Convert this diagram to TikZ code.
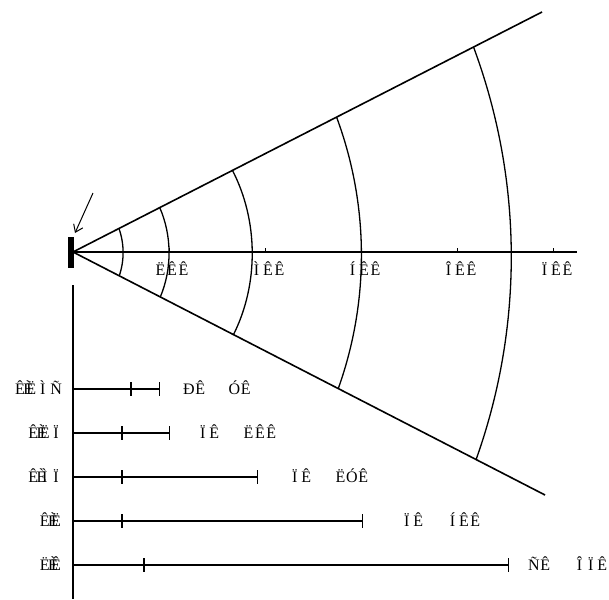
\documentclass[tikz,border=0pt]{standalone}
\usepackage{fontspec}
\setmainfont{Liberation Serif}
\usetikzlibrary{arrows.meta,calc}
\makeatletter
\newcommand{\mono}[1]{\@tfor\mono@c:=#1\do{\makebox[11.4pt]{\mono@c}}}
\makeatother
\newcommand{\monolab}[1]{\expandafter\mono\expandafter{#1}}
\newcommand{\pe}{\makebox[0pt][r]{È\kern-7.5pt}}

\begin{document}
\begin{tikzpicture}[x=1pt,y=1pt,font=\fontsize{16}{18}\selectfont,
    beam/.style={line width=1.6pt},
    front/.style={line width=1.3pt},
    scaleline/.style={line width=1.4pt},
    lab/.style={inner sep=0pt}]
  \useasboundingbox (0,0) rectangle (609,-599);
  \coordinate (src) at (73,-252);
  \coordinate (upEnd) at (542,-12);
  \coordinate (lowEnd) at (545,-495);
  \coordinate (axEnd) at (577,-252);
  \fill (68,-237) rectangle (73.5,-268);
  \draw[beam] (src) -- (upEnd);
  \draw[beam] (src) -- (lowEnd);
  \draw[line width=1.2pt] (src) -- (axEnd);
  \foreach \f/\b [count=\i] in {0.098/19,0.185/23,0.34/27,0.562/20,0.854/20} {
    \coordinate (top\i) at ($(src)!\f!(upEnd)$);
    \coordinate (bot\i) at ($(src)!\f!(lowEnd)$);
    \draw[front] (top\i) to[bend left=\b,looseness=0.88] (bot\i);
  }
  \foreach \x/\lab in {169/ËÊÊ,265/ÌÊÊ,361/ÍÊÊ,457/ÎÊÊ,553/ÏÊÊ} {
    \draw[line width=0.9pt] (\x,-252) -- (\x,-247.5);
    \node[lab,anchor=base] (ax\x) at (\x+3,-275) {\monolab{\lab}};
  }

  \coordinate (arrTail) at (93,-193);
  \coordinate (arrTip) at (75,-233);
  \draw[line width=1pt,-{Straight Barb[length=7pt,width=10pt]}] (arrTail) -- (arrTip);

  \coordinate (scaleTop) at (73,-285);
  \coordinate (scaleBot) at (73,-599);
  \draw[line width=1.2pt] (scaleTop) -- (scaleBot);
  \foreach \y/\a/\e/\lx/\rl/\ll in {
      389/131/160/183/ÐÊ~~ÓÊ/\mono{Ê}\pe\mono{ËÌ}\hspace{2pt}\mono{Ñ},
      433/122/170/197/ÏÊ~~ËÊÊ/\mono{Ê}\pe\mono{ËÏ},
      477/122/258/289/ÏÊ~~ËÓÊ/\mono{Ê}\pe\mono{ÌÏ},
      521/122/363/401/ÏÊ~~ÍÊÊ/\mono{Ê}\pe\mono{Ë},
      565/144/509/528/ÑÊ~~ÎÏÊ/\mono{Ë}\pe\mono{Ê}} {
    \coordinate (r\y) at (73,-\y);
    \coordinate (e\y) at (\e,-\y);
    \draw[scaleline,-{Bar[width=14pt]}] (r\y) -- (e\y);
    \draw[scaleline] (\a,-\y+7) -- (\a,-\y-7);
    \node[lab,anchor=base west] (v\y) at (\lx,-\y-5.5) {\monolab{\rl}};
    \node[lab,anchor=base east] (t\y) at (62,-\y-5.5) {\ll};
  }
\end{tikzpicture}
\end{document}
